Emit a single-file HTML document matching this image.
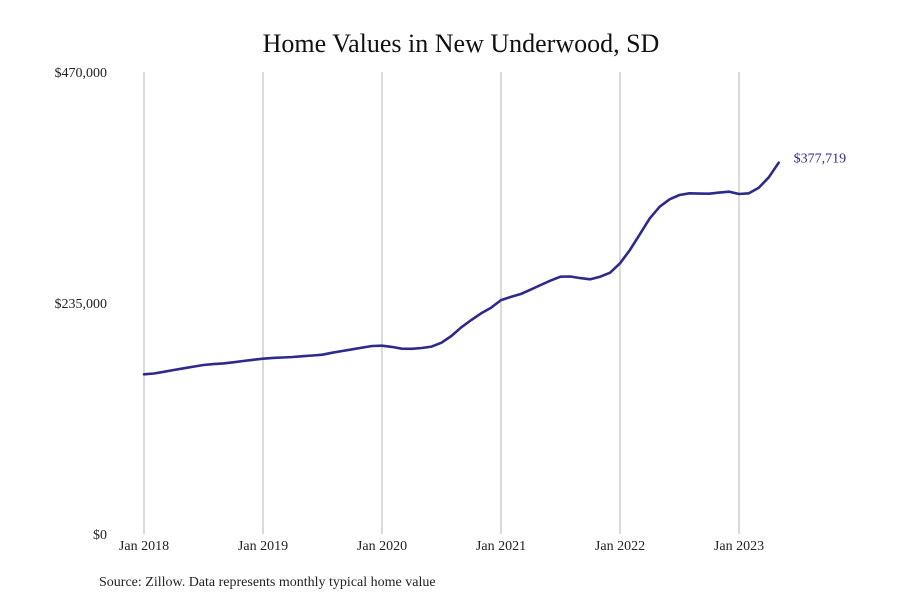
<!DOCTYPE html>
<html><head><meta charset="utf-8"><style>
body{margin:0;background:#fff;}
svg{display:block;font-family:"Liberation Serif",serif;}
</style></head><body>
<svg id="chart" width="900" height="600">
<text x="461" y="52" text-anchor="middle" font-size="26" fill="#111">Home Values in New Underwood, SD</text>
<g id="grid"></g><g id="yaxis"></g><g id="xaxis"></g><g id="series"></g>
<text x="99" y="586" font-size="14" fill="#222">Source: Zillow. Data represents monthly typical home value</text>
</svg>
<script>
const yTicks=[0,235000,470000];
const yTickLabels=["$0","$235,000","$470,000"];
const xTickMonths=[0,12,24,36,48,60];
const xTickLabels=["Jan 2018","Jan 2019","Jan 2020","Jan 2021","Jan 2022","Jan 2023"];
const values=[162.5,163.3,165,166.8,168.6,170.3,171.9,172.8,173.6,174.7,176,177.2,178.3,179.1,179.6,180.1,180.9,181.6,182.4,184.4,186.2,187.9,189.6,191.3,191.6,190.3,188.5,188.4,189.2,190.6,194.6,201.4,210.3,217.7,224.5,230.2,238.0,241.2,244.2,248.6,253.3,257.8,261.8,262,260.3,259.1,261.8,265.8,275.4,288.9,304.9,321.2,333.0,340.5,344.9,346.6,346.3,346.2,347.3,348.2,345.9,346.6,352.3,362.9,377.719].map(v=>v*1000);
const lastLabel="$377,719";
const NS="http://www.w3.org/2000/svg";
const x=m=>144+m*(119/12);
const y=v=>534-v/470000*462;
function mk(tag,attrs,parent){const e=document.createElementNS(NS,tag);for(const k in attrs)e.setAttribute(k,attrs[k]);parent.appendChild(e);return e;}
const grid=document.getElementById('grid'),ya=document.getElementById('yaxis'),xa=document.getElementById('xaxis'),se=document.getElementById('series');
xTickMonths.forEach((m,i)=>{
 const l=mk('line',{x1:x(m),x2:x(m),y1:72,y2:534,stroke:'#b5b5b5','stroke-width':1},grid);
 
 
 const t=mk('text',{x:x(m),y:550,'text-anchor':'middle','font-size':14,fill:'#222'},xa);
 t.textContent=xTickLabels[i];
 
 
});
yTicks.forEach((v,i)=>{
 const t=mk('text',{x:107,y:y(v)+5,'text-anchor':'end','font-size':14,fill:'#222'},ya);
 t.textContent=yTickLabels[i];
 
 
});
const d=values.map((v,i)=>(i?'L':'M')+x(i).toFixed(1)+','+y(v).toFixed(1)).join(' ');
const p=mk('path',{d:d,fill:'none',stroke:'#2e2a8c','stroke-width':2.6,'stroke-linejoin':'round','stroke-linecap':'round'},se);


const n=values.length-1;
const lt=mk('text',{x:x(n)+15,y:y(values[n])+0,'font-size':14,fill:'#2e2a8c'},se);
lt.textContent=lastLabel;


</script>
</body></html>
